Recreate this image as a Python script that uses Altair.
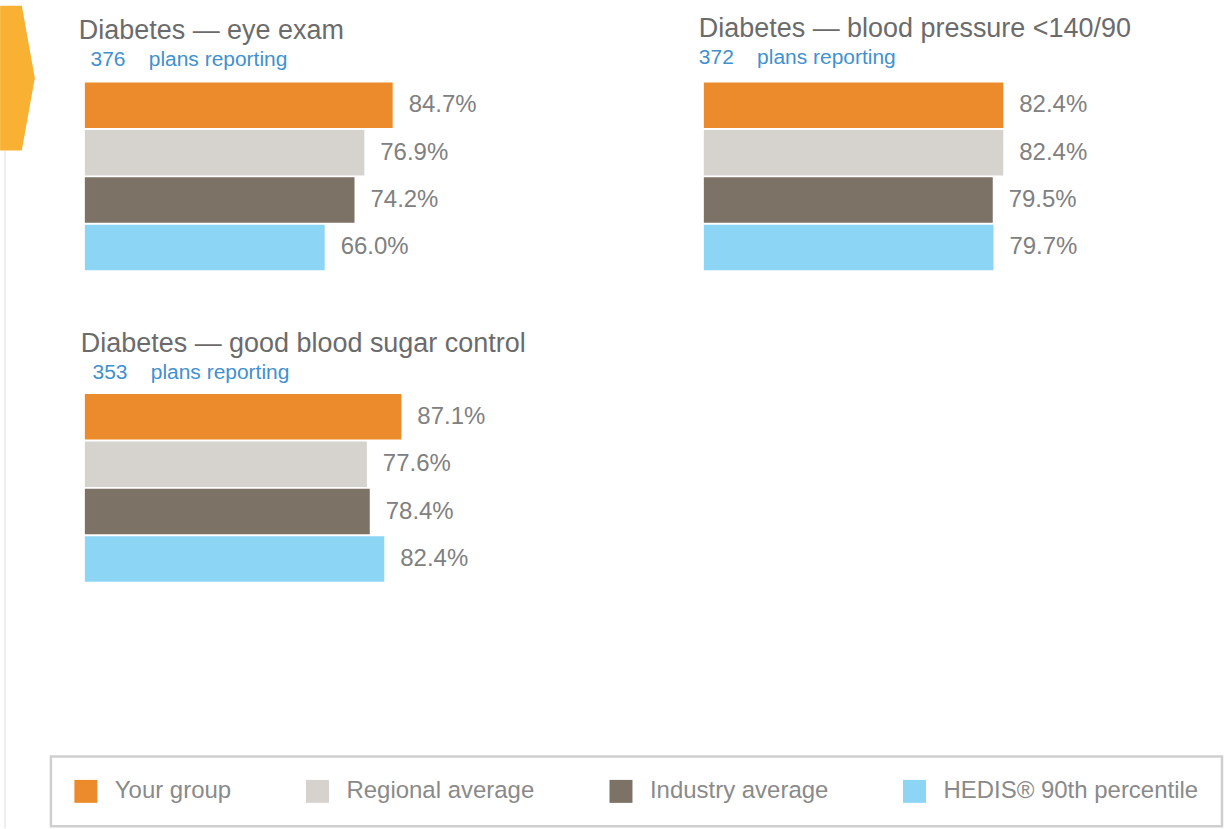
import altair as alt
import pandas as pd

metrics = ["Diabetes — eye exam", "Diabetes — blood pressure <140/90", "Diabetes — good blood sugar control"]
plans = [376, 372, 353]
series = ["Your group", "Regional average", "Industry average", "HEDIS® 90th percentile"]
your_group = [84.7, 82.4, 87.1]
regional_avg = [76.9, 82.4, 77.6]
industry_avg = [74.2, 79.5, 78.4]
hedis_90 = [66.0, 79.7, 82.4]
colors = ["#EC8B2C", "#D6D3CF", "#7D7266", "#8DD5F5"]

FONT = "Liberation Sans"

rows = []
for i, m in enumerate(metrics):
    for s, vals in zip(series, [your_group, regional_avg, industry_avg, hedis_90]):
        rows.append({"metric": m, "series": s, "value": vals[i], "label": f"{vals[i]:.1f}%"})
df = pd.DataFrame(rows)

color_enc = alt.Color(
    "series:N",
    scale=alt.Scale(domain=series, range=colors),
    legend=alt.Legend(
        orient="none", legendX=-34, legendY=675, direction="horizontal", title=None,
        symbolType="square", symbolSize=529, symbolStrokeWidth=0, symbolOpacity=1,
        labelFontSize=24, labelColor="#8a8a8a", labelFont=FONT, labelOffset=17,
        labelLimit=0, columnPadding=74, padding=23, strokeColor="#cfcfcf",
    ),
)


def panel(i, lead, dx, offset=12, extra=()):
    base = alt.Chart(df[df.metric == metrics[i]])
    y = alt.Y("series:N", sort=series, axis=None,
              scale=alt.Scale(paddingInner=0.04, paddingOuter=0))
    x = alt.X("value:Q", axis=None, scale=alt.Scale(domain=[0, 100]))
    bars = base.mark_bar().encode(x=x, y=y, color=color_enc)
    text = base.mark_text(align="left", baseline="middle", dx=16, fontSize=24,
                          color="#808080", font=FONT).encode(x=x, y=y, text="label:N")
    sub = lead + f"{plans[i]}\u00a0\u00a0\u00a0\u00a0plans reporting"
    return alt.layer(*extra, bars, text).properties(
        width=364, height=188,
        title=alt.TitleParams(
            text=metrics[i], subtitle=sub, anchor="start", frame="group", dx=dx,
            fontSize=27, fontWeight="normal", color="#6b6b6b", font=FONT,
            subtitleFontSize=21, subtitleColor="#4191cf", subtitleFont=FONT,
            subtitlePadding=4, offset=offset,
        ),
    )


one = pd.DataFrame({"a": [0]})
arrow = alt.Chart(one).mark_point(
    shape="M-0.24,-1 L0.06,-1 L0.24,0 L0.06,1 L-0.24,1 Z",
    filled=True, color="#F8B133", opacity=1, strokeWidth=0, size=21025,
).encode(x=alt.value(-67.5), y=alt.value(-4.5))
edge = alt.Chart(one).mark_rule(color="#eeeeee", strokeWidth=2).encode(
    x=alt.value(-80), y=alt.value(68), y2=alt.value(747))

p1 = panel(0, "\u200b\u00a0\u00a0", -6, offset=-65, extra=(edge, arrow))
p2 = panel(1, "", -5, offset=14)
p3 = panel(2, "\u200b\u00a0\u00a0", -4, offset=10)

chart = alt.concat(
    p1, p2, p3, columns=2, bounds="flush",
    spacing=alt.RowColnumber(row=124, column=256),
).properties(
    padding={"left": 0, "top": 5, "right": 0, "bottom": 0}
).configure(font=FONT).configure_view(stroke=None).configure_legend(strokeWidth=2.5)

chart.save("out.html", embed_options={"renderer": "svg", "actions": False})
